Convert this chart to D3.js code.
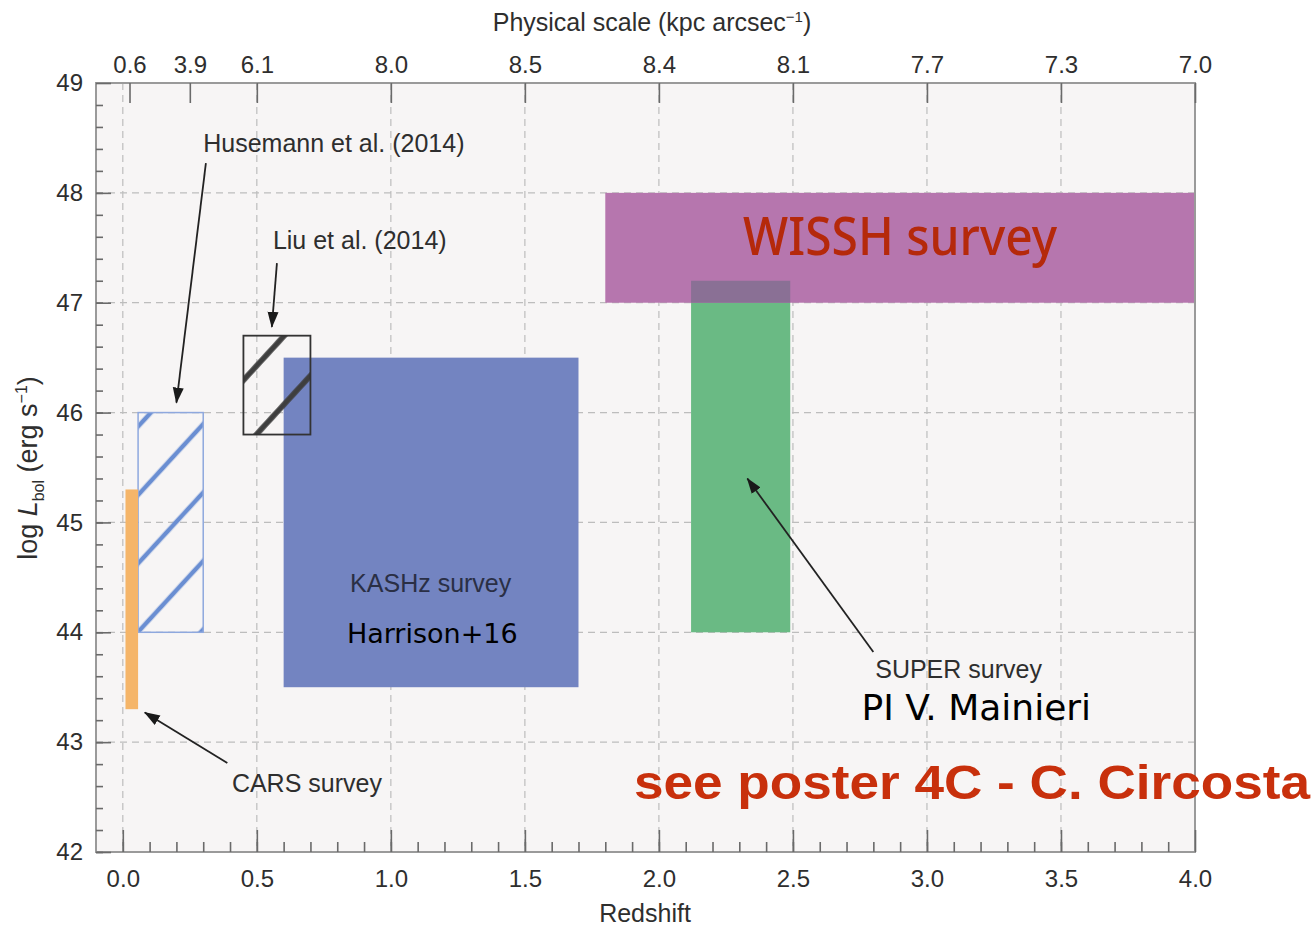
<!DOCTYPE html>
<html><head><meta charset="utf-8">
<script src="https://cdn.jsdelivr.net/npm/d3@7"></script>
<style>body{margin:0;background:#fff;} svg{display:block;}</style>
</head><body>
<svg id="chart" width="1314" height="927"></svg>
<script>
(function(){
// ---- data ----
const surveys   = ["CARS", "Husemann", "Liu", "KASHz", "SUPER", "WISSH"];
const zMin      = [0.01, 0.057, 0.45, 0.60, 2.12, 1.80];
const zMax      = [0.057, 0.30, 0.70, 1.70, 2.49, 4.00];
const lMin      = [43.3, 44.0, 45.8, 43.5, 44.0, 47.0];
const lMax      = [45.3, 46.0, 46.7, 46.5, 47.2, 48.0];

const bottomTicks = [0, 0.5, 1.0, 1.5, 2.0, 2.5, 3.0, 3.5, 4.0];
const topTickZ    = [0.025, 0.25, 0.5, 1.0, 1.5, 2.0, 2.5, 3.0, 3.5, 4.0];
const topLabels   = ["0.6", "3.9", "6.1", "8.0", "8.5", "8.4", "8.1", "7.7", "7.3", "7.0"];
const leftTicks   = [42, 43, 44, 45, 46, 47, 48, 49];

// annotation arrows: [z, logL]
const arrowNames = ["Husemann", "Liu", "SUPER", "CARS"];
const arrowTail  = [[0.31, 48.27], [0.575, 47.36], [2.80, 43.82], [0.39, 42.81]];
const arrowTip   = [[0.20, 46.09], [0.556, 46.78], [2.33, 45.40], [0.082, 43.27]];

// ---- layout ----
const svg = d3.select("#chart");
const L = 96, R = 1195, T = 83, B = 852;
const x = d3.scaleLinear().domain([-0.1, 4.0]).range([L, R]);
const y = d3.scaleLinear().domain([42, 49]).range([B, T]);
const font = "'Liberation Sans', Arial, Helvetica, sans-serif";
const txt = "#2e2e2e";

const defs = svg.append("defs");
function hatch(id, color, sw) {
  const P = 46.3;
  const p = defs.append("pattern").attr("id", id)
    .attr("patternUnits", "userSpaceOnUse")
    .attr("width", 20).attr("height", P)
    .attr("patternTransform", "translate(0,577) rotate(-47.46)");
  p.append("rect").attr("x", 0).attr("y", 0).attr("width", 20).attr("height", sw / 2).attr("fill", color);
  p.append("rect").attr("x", 0).attr("y", P - sw / 2).attr("width", 20).attr("height", sw / 2).attr("fill", color);
}
hatch("hBlue", "#6a8ed2", 4.5);
hatch("hDark", "#3e3e3e", 5.5);
defs.append("marker").attr("id", "arr").attr("markerUnits", "userSpaceOnUse")
  .attr("viewBox", "0 -6 16 12").attr("refX", 15).attr("refY", 0)
  .attr("markerWidth", 16).attr("markerHeight", 12).attr("orient", "auto")
  .append("path").attr("d", "M0,-5.5L16,0L0,5.5Z").attr("fill", "#1a1a1a");

// plot background
svg.append("rect").attr("x", L).attr("y", T).attr("width", R - L).attr("height", B - T)
  .attr("fill", "#f7f5f5");

// grid
const grid = svg.append("g").attr("stroke", "#bdbdbd").attr("stroke-width", 1.2).attr("stroke-dasharray", "7,5");
grid.selectAll("line.v").data(bottomTicks.filter(d => d < 4)).join("line").attr("class", "v")
  .attr("x1", d => x(d)).attr("x2", d => x(d)).attr("y1", T).attr("y2", B);
grid.selectAll("line.h").data(leftTicks.filter(d => d > 42 && d < 49)).join("line").attr("class", "h")
  .attr("x1", L).attr("x2", R).attr("y1", d => y(d)).attr("y2", d => y(d));

// rectangles
const idx = n => surveys.indexOf(n);
function box(n) {
  const i = idx(n);
  return svg.append("rect")
    .attr("x", x(zMin[i])).attr("y", y(lMax[i]))
    .attr("width", x(zMax[i]) - x(zMin[i])).attr("height", y(lMin[i]) - y(lMax[i]));
}
box("KASHz").attr("fill", "#7384c1");
box("Husemann").attr("fill", "url(#hBlue)").attr("stroke", "#8ea8de").attr("stroke-width", 1.5);
box("CARS").attr("fill", "#f5b569");
box("SUPER").attr("fill", "#6aba84");
box("WISSH").attr("fill", "#b676ae");
// overlap SUPER / WISSH
{
  const a = idx("SUPER"), b = idx("WISSH");
  const z0 = Math.max(zMin[a], zMin[b]), z1 = Math.min(zMax[a], zMax[b]);
  const l0 = Math.max(lMin[a], lMin[b]), l1 = Math.min(lMax[a], lMax[b]);
  svg.append("rect").attr("x", x(z0)).attr("y", y(l1)).attr("width", x(z1) - x(z0))
    .attr("height", y(l0) - y(l1)).attr("fill", "#8a7095");
}
box("Liu").attr("fill", "url(#hDark)").attr("stroke", "#333").attr("stroke-width", 1.8);

// frame
svg.append("rect").attr("x", L).attr("y", T).attr("width", R - L).attr("height", B - T)
  .attr("fill", "none").attr("stroke", "#9a9a9a").attr("stroke-width", 2);

// axes
function styleAxis(g) {
  g.select(".domain").remove();
  g.selectAll(".tick line").attr("stroke", "#6a6a6a").attr("stroke-width", 1.6);
  g.selectAll(".tick text").attr("fill", txt).style("font-family", font).style("font-size", "24px");
}
svg.append("g").attr("transform", `translate(0,${B})`)
  .call(d3.axisBottom(x).tickValues(d3.range(0, 40).map(d => d / 10)).tickSize(-10).tickFormat(""))
  .call(styleAxis);
svg.append("g").attr("transform", `translate(0,${B})`)
  .call(d3.axisBottom(x).tickValues(bottomTicks).tickSize(-22).tickPadding(18).tickFormat(d3.format(".1f")))
  .call(styleAxis);
svg.append("g").attr("transform", `translate(0,${T})`)
  .call(d3.axisTop(x).tickValues(topTickZ).tickSize(-20).tickPadding(10).tickFormat((d, i) => topLabels[i]))
  .call(styleAxis);
svg.append("g").attr("transform", `translate(${L},0)`)
  .call(d3.axisLeft(y).tickValues(d3.range(210, 245).map(d => d / 5)).tickSize(-7).tickFormat(""))
  .call(styleAxis);
svg.append("g").attr("transform", `translate(${L},0)`)
  .call(d3.axisLeft(y).tickValues(leftTicks).tickSize(-15).tickPadding(13).tickFormat(d3.format("d")))
  .call(styleAxis);

// axis titles
const topTitle = svg.append("text").attr("x", 652).attr("y", 31).attr("text-anchor", "middle")
  .attr("fill", txt).style("font-family", font).style("font-size", "25px");
topTitle.append("tspan").text("Physical scale (kpc arcsec");
topTitle.append("tspan").attr("dy", -9).style("font-size", "15px").text("\u22121");
topTitle.append("tspan").attr("dy", 9).text(")");

svg.append("text").attr("x", 645).attr("y", 922).attr("text-anchor", "middle")
  .attr("fill", txt).style("font-family", font).style("font-size", "25px").text("Redshift");

const yl = svg.append("text").attr("transform", "translate(37,468) rotate(-90)").attr("text-anchor", "middle")
  .attr("fill", txt).style("font-family", font).style("font-size", "27px");
yl.append("tspan").text("log ");
yl.append("tspan").style("font-style", "italic").text("L");
yl.append("tspan").attr("dy", 7).style("font-size", "16px").text("bol");
yl.append("tspan").attr("dy", -7).text(" (erg s");
yl.append("tspan").attr("dy", -10).style("font-size", "16px").text("\u22121");
yl.append("tspan").attr("dy", 10).text(")");

// arrows
svg.append("g").selectAll("line").data(arrowNames).join("line")
  .attr("x1", (d, i) => x(arrowTail[i][0])).attr("y1", (d, i) => y(arrowTail[i][1]))
  .attr("x2", (d, i) => x(arrowTip[i][0])).attr("y2", (d, i) => y(arrowTip[i][1]))
  .attr("stroke", "#222").attr("stroke-width", 1.8).attr("marker-end", "url(#arr)");

// annotation texts
const labels = [
  {t: "Husemann et al. (2014)", z: 0.30, l: 48.37, f: font, s: 25, c: txt},
  {t: "Liu et al. (2014)", z: 0.56, l: 47.49, f: font, s: 25, c: txt},
  {t: "KASHz survey", z: 0.848, l: 44.37, f: font, s: 25, c: "#2a2f45"},
  {t: "SUPER survey", z: 2.807, l: 43.58, f: font, s: 25, c: txt},
  {t: "CARS survey", z: 0.407, l: 42.546, f: font, s: 25, c: txt},
  {t: "Harrison+16", z: 0.836, l: 43.90, f: "'DejaVu Sans', sans-serif", s: 27, c: "#000"},
  {t: "PI V. Mainieri", z: 2.756, l: 43.20, f: "'DejaVu Sans', sans-serif", s: 36, c: "#000"}
];
svg.append("g").selectAll("text").data(labels).join("text")
  .attr("x", d => x(d.z)).attr("y", d => y(d.l))
  .attr("fill", d => d.c).style("font-family", d => d.f).style("font-size", d => d.s + "px")
  .text(d => d.t);

svg.append("text").attr("x", x(2.314)).attr("y", y(47.43))
  .attr("textLength", 314).attr("lengthAdjust", "spacingAndGlyphs")
  .attr("fill", "#b5290b").style("font-family", "'Noto Sans', 'Open Sans', sans-serif")
  .style("font-size", "52px").style("font-weight", 500).text("WISSH survey");

svg.append("text").attr("x", x(1.907)).attr("y", y(42.48))
  .attr("textLength", 676).attr("lengthAdjust", "spacingAndGlyphs")
  .attr("fill", "#c8300c").style("font-family", font)
  .style("font-size", "49px").style("font-weight", "bold").text("see poster 4C - C. Circosta");
})();
</script>
</body></html>
